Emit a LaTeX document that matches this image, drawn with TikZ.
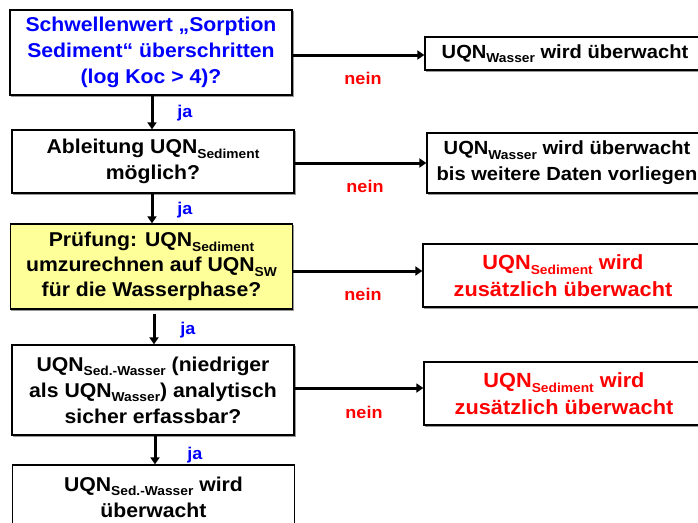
\documentclass[tikz,border=0pt]{standalone}
\usepackage{fontspec}
\setmainfont{Liberation Sans}[FakeStretch=1.06]
\usetikzlibrary{arrows.meta}
\definecolor{pyellow}{RGB}{255,255,153}
\definecolor{nblue}{RGB}{0,0,255}
\definecolor{nred}{RGB}{255,0,0}
\newcommand\lsub[1]{\raisebox{-0.45ex}{\fontsize{13}{13}\selectfont #1}}
\tikzset{
  box/.style={draw=black, line width=1.3pt, fill=white, align=center, inner sep=0pt,
    font=\fontsize{20}{26}\selectfont\bfseries},
  lbox/.style={box, minimum width=282pt},
  rbox/.style={box, minimum width=280pt, font=\fontsize{19}{26}\selectfont\bfseries},
  redbox/.style={rbox, text=nred, font=\fontsize{20.5}{27}\selectfont\bfseries},
  shadowed/.style={preaction={draw=gray!80, line width=1.3pt, fill=none, transform canvas={shift={(1.3pt,-1.3pt)}}}},
  arr/.style={line width=3pt, -{Triangle[length=7pt,width=9pt]}},
  ja/.style={text=nblue, font=\fontsize{17}{17}\selectfont\bfseries},
  nein/.style={text=nred, font=\fontsize{17}{17}\selectfont\bfseries},
}
\begin{document}
\begin{tikzpicture}[x=1pt,y=-1pt]
\useasboundingbox (0,0) rectangle (698,522);
\clip (0,0) rectangle (698,522);
\fill[white] (0,0) rectangle (698,522);
% left column
\node[lbox, shadowed, minimum height=85pt, text=nblue] (b1) at (151,52.5)
  {Schwellenwert „Sorption\\Sediment“ überschritten\\(log Koc > 4)?};
\node[lbox, shadowed, minimum height=63pt] (b2) at (153,161.5)
  {Ableitung UQN\lsub{Sediment}\\möglich?};
\node[lbox, shadowed, minimum height=85pt, fill=pyellow, font=\fontsize{20}{25}\selectfont\bfseries] (b3) at (151.5,266.5)
  {Prüfung: UQN\lsub{Sediment}\\umzurechnen auf UQN\lsub{SW}\\für die Wasserphase?};
\node[lbox, shadowed, minimum height=90pt] (b4) at (153,390)
  {UQN\lsub{Sed.-Wasser} (niedriger\\als UQN\lsub{Wasser}) analytisch\\sicher erfassbar?};
\node[lbox, minimum height=64pt] (b5) at (153.5,497)
  {UQN\lsub{Sed.-Wasser} wird\\überwacht};
% right column
\node[rbox, shadowed, minimum height=33pt] (r1) at (565,53.5)
  {UQN\lsub{Wasser} wird überwacht};
\node[rbox, shadowed, minimum height=60pt] (r2) at (567,163)
  {UQN\lsub{Wasser} wird überwacht\\bis weitere Daten vorliegen};
\node[redbox, shadowed, minimum height=63pt] (r3) at (563,275.5)
  {UQN\lsub{Sediment} wird\\zusätzlich überwacht};
\node[redbox, shadowed, minimum height=63pt] (r4) at (564,393.5)
  {UQN\lsub{Sediment} wird\\zusätzlich überwacht};
% vertical arrows
\draw[arr] (b1.south -| 152,0) -- (b2.north -| 152,0);
\draw[arr] (b2.south -| 152,0) -- (b3.north -| 152,0);
\draw[arr] (b3.south -| 154,0) ++(0,4) -- (b4.north -| 154,0);
\draw[arr] (b4.south -| 155,0) -- (b5.north -| 155,0);
\node[ja] (j1) at (185,113) {ja};
\node[ja] (j2) at (185,210) {ja};
\node[ja] (j3) at (188,330) {ja};
\node[ja] (j4) at (195,455) {ja};
% horizontal arrows
\draw[arr] (b1.east |- 0,55) -- (r1.west |- 0,55);
\draw[arr] (b2.east |- 0,163) -- (r2.west |- 0,163);
\draw[arr] (b3.east |- 0,271) -- (r3.west |- 0,271);
\draw[arr] (b4.east |- 0,388) -- (r4.west |- 0,388);
\node[nein] (n1) at (363,78) {nein};
\node[nein] (n2) at (365,186) {nein};
\node[nein] (n3) at (363,294) {nein};
\node[nein] (n4) at (364,412) {nein};
\end{tikzpicture}
\end{document}
